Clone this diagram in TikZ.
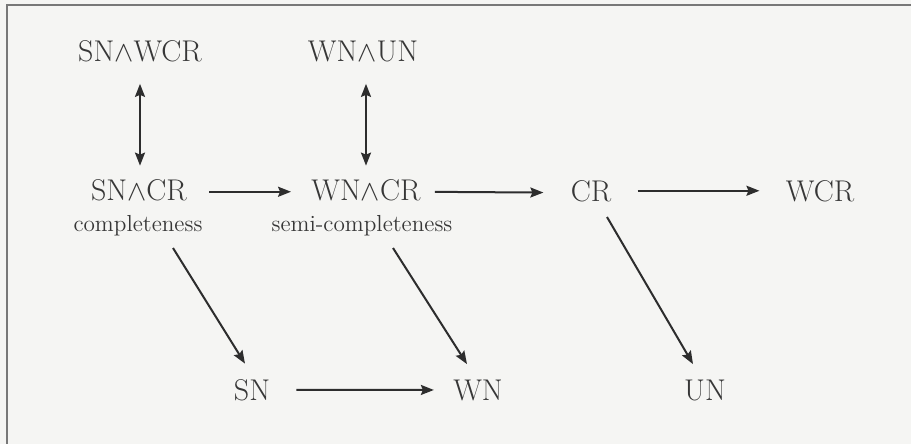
\documentclass[tikz,border=0pt]{standalone}
\usetikzlibrary{arrows.meta}
\definecolor{bgc}{RGB}{245,245,243}
\definecolor{ink}{RGB}{55,55,55}
\definecolor{arrc}{RGB}{45,45,45}
\definecolor{framec}{RGB}{120,120,120}
\begin{document}
\begin{tikzpicture}[x=0.5pt,y=-0.5pt,
  lbl/.style={anchor=base,inner sep=0pt,text=ink,font=\fontsize{15}{17}\selectfont},
  sub/.style={anchor=base,inner sep=0pt,text=ink,font=\fontsize{11.6}{13}\selectfont},
  arr/.style={draw=arrc,line width=1pt,-{Stealth[length=6.5pt,width=5pt,inset=1pt]}},
  biarr/.style={draw=arrc,line width=1pt,{Stealth[length=6.5pt,width=5pt,inset=1pt]}-{Stealth[length=6.5pt,width=5pt,inset=1pt]}}]
\useasboundingbox (0,0) rectangle (911,444);
\fill[bgc] (0,0) rectangle (911,444);
\draw[framec,line width=0.9pt] (7,444) -- (7,5) -- (911,5);
% nodes
\node[lbl] (swcr) at (140,62) {SN$\wedge$WCR};
\node[lbl] (wun)  at (363,62) {WN$\wedge$UN};
\node[lbl] (scr)  at (139,200) {SN$\wedge$CR};
\node[lbl] (wcr)  at (366,200) {WN$\wedge$CR};
\node[lbl] (cr)   at (591,201) {CR};
\node[lbl] (wcrr) at (820,201) {WCR};
\node[lbl] (sn)   at (252,400) {SN};
\node[lbl] (wn)   at (478,400) {WN};
\node[lbl] (un)   at (705,400) {UN};
\node[sub] (comp) at (138,232) {completeness};
\node[sub] (semi) at (362,232) {semi-completeness};
% connectors
\draw[biarr,shorten <=10.5pt,shorten >=6.5pt] (swcr.south) -- (swcr.south |- scr.north);
\draw[biarr,shorten <=10.5pt,shorten >=6.5pt] (wcr.north |- wun.south) -- (wcr.north);
\draw[arr,shorten <=11pt,shorten >=10pt] ([shift={(0,2)}]scr.east) -- ([shift={(0,2)}]wcr.west);
\draw[arr,shorten <=7pt,shorten >=13.5pt] ([shift={(0,2)}]wcr.east) -- ([shift={(0,2)}]cr.west);
\draw[arr,shorten <=13pt,shorten >=13pt] (cr.east) -- (wcrr.west);
\draw[arr,shorten <=13pt,shorten >=9.5pt] (sn.east) -- (wn.west);
\draw[arr] ([shift={(35,16)}]comp.base) -- ([shift={(-7,-15)}]sn.north);
\draw[arr] ([shift={(31,16)}]semi.base) -- ([shift={(-11,-15)}]wn.north);
\draw[arr] ([shift={(16,16)}]cr.base) -- ([shift={(-12,-15)}]un.north);
\end{tikzpicture}
\end{document}
